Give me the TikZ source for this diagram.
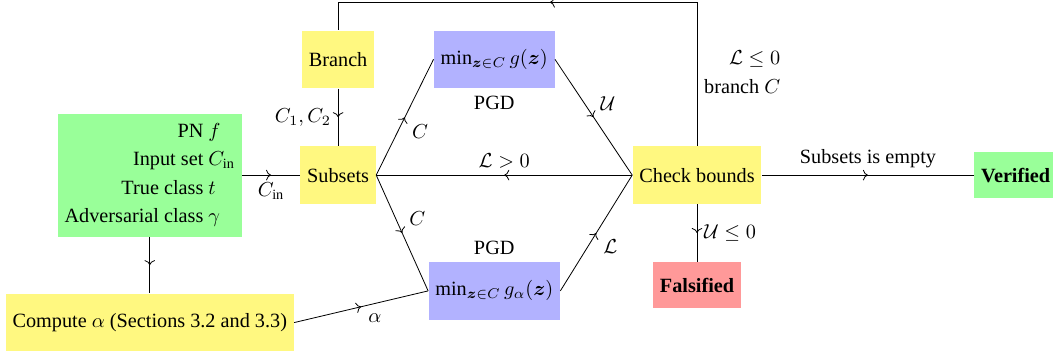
\documentclass[tikz,border=0pt]{standalone}
\usepackage{fontspec}
\setmainfont{Liberation Serif}
\usepackage[compat=1.1.0]{tikz-feynman}
\usetikzlibrary{calc,decorations.markings}
\usepackage{amsmath}
\usepackage{amssymb}

\tikzset{
  yellowbox/.style={fill=yellow!50, inner sep=3.33pt, minimum height=1cm},
  bluebox/.style={fill=blue!30, inner sep=3.33pt, minimum height=1cm},
  greenbox/.style={fill=green!40, inner sep=3.33pt, minimum height=0.8cm},
  redbox/.style={fill=red!40, inner sep=3.33pt, minimum height=0.8cm},
  mid arrow/.style={postaction={decorate},
    decoration={markings, mark=at position #1 with {\arrow{>}}}},
  mid arrow/.default=0.5,
}

\begin{document}
\begin{tikzpicture}
  \useasboundingbox (-5.87,-3.18) rectangle (12.41,3.04);
  \begin{feynman}
   \vertex[yellowbox] (subsets) at (0,0) {Subsets};
   \vertex[yellowbox] (branch) at (0,2.01) {Branch};
   \vertex[bluebox, label=below:PGD] (gtop) at (2.71,2.01) {\(\min_{\boldsymbol{z}\in C} g(\boldsymbol{z})\)};
   \vertex[bluebox, label=above:PGD] (gbot) at (2.71,-2.01) {\(\min_{\boldsymbol{z}\in C} g_{\alpha}(\boldsymbol{z})\)};
   \vertex[yellowbox] (check) at (6.23,0) {Check bounds};
   \vertex[greenbox, anchor=west] (verified) at (11.04,0) {\textbf{Verified}};
   \vertex[redbox] (falsified) at (6.23,-1.91) {\textbf{Falsified}};
   \vertex[greenbox] (input) at (-3.27,0) {\begin{tabular}{@{}r@{\ }l@{}}
       PN & \(f\)\\[2pt]
       Input set & \(C_{\text{in}}\)\\[2pt]
       True class & \(t\)\\[2pt]
       Adversarial class & \(\gamma\)
     \end{tabular}};
   \vertex[yellowbox] (compute) at (-3.27,-2.56) {Compute \(\alpha\) (Sections 3.2 and 3.3)};
   % anchors for the slanted lines
   \vertex (sE) at (subsets.east);
   \vertex (cW) at (check.west);
   \vertex (tW) at (gtop.west);
   \vertex (tE) at (gtop.east);
   \vertex (bW) at (gbot.west);
   \vertex (bE) at (gbot.east);
   \vertex (aE) at (compute.east);
   \vertex (cR) at ($(check) + (0, 3)$);
   \vertex (cL) at (cR -| branch);
   \diagram*{
   (input) -- [plain, mid arrow, edge label'=\(C_{\text{in}}\)] (subsets);
   (input) -- [plain, mid arrow] (compute);
   (aE) -- [plain, mid arrow, edge label'=\(\alpha\)] (bW);
   (branch) -- [plain, mid arrow, edge label'={\(C_1, C_2\)}] (subsets);
   (sE) -- [plain, mid arrow, edge label'=\(C\)] (tW);
   (sE) -- [plain, mid arrow, edge label=\(C\)] (bW);
   (tE) -- [plain, mid arrow, edge label=\(\mathcal{U}\)] (cW);
   (bE) -- [plain, mid arrow, edge label'=\(\mathcal{L}\)] (cW);
   (check) -- [plain, mid arrow, edge label'=\(\mathcal{L} > 0\)] (subsets);
   (check) -- [plain, mid arrow, edge label=Subsets is empty] (verified);
   (check) -- [plain, mid arrow, edge label=\(\mathcal{U} \leq 0\)] (falsified);
   (check) -- [plain, edge label'={\begin{tabular}{@{}r@{}}\(\mathcal{L} \leq 0\)\\[2pt] branch \(C\)\end{tabular}}] (cR)
     -- [plain, mid arrow=0.41] (cL) -- [plain] (branch);
   };
  \end{feynman}
 \end{tikzpicture}
\end{document}
